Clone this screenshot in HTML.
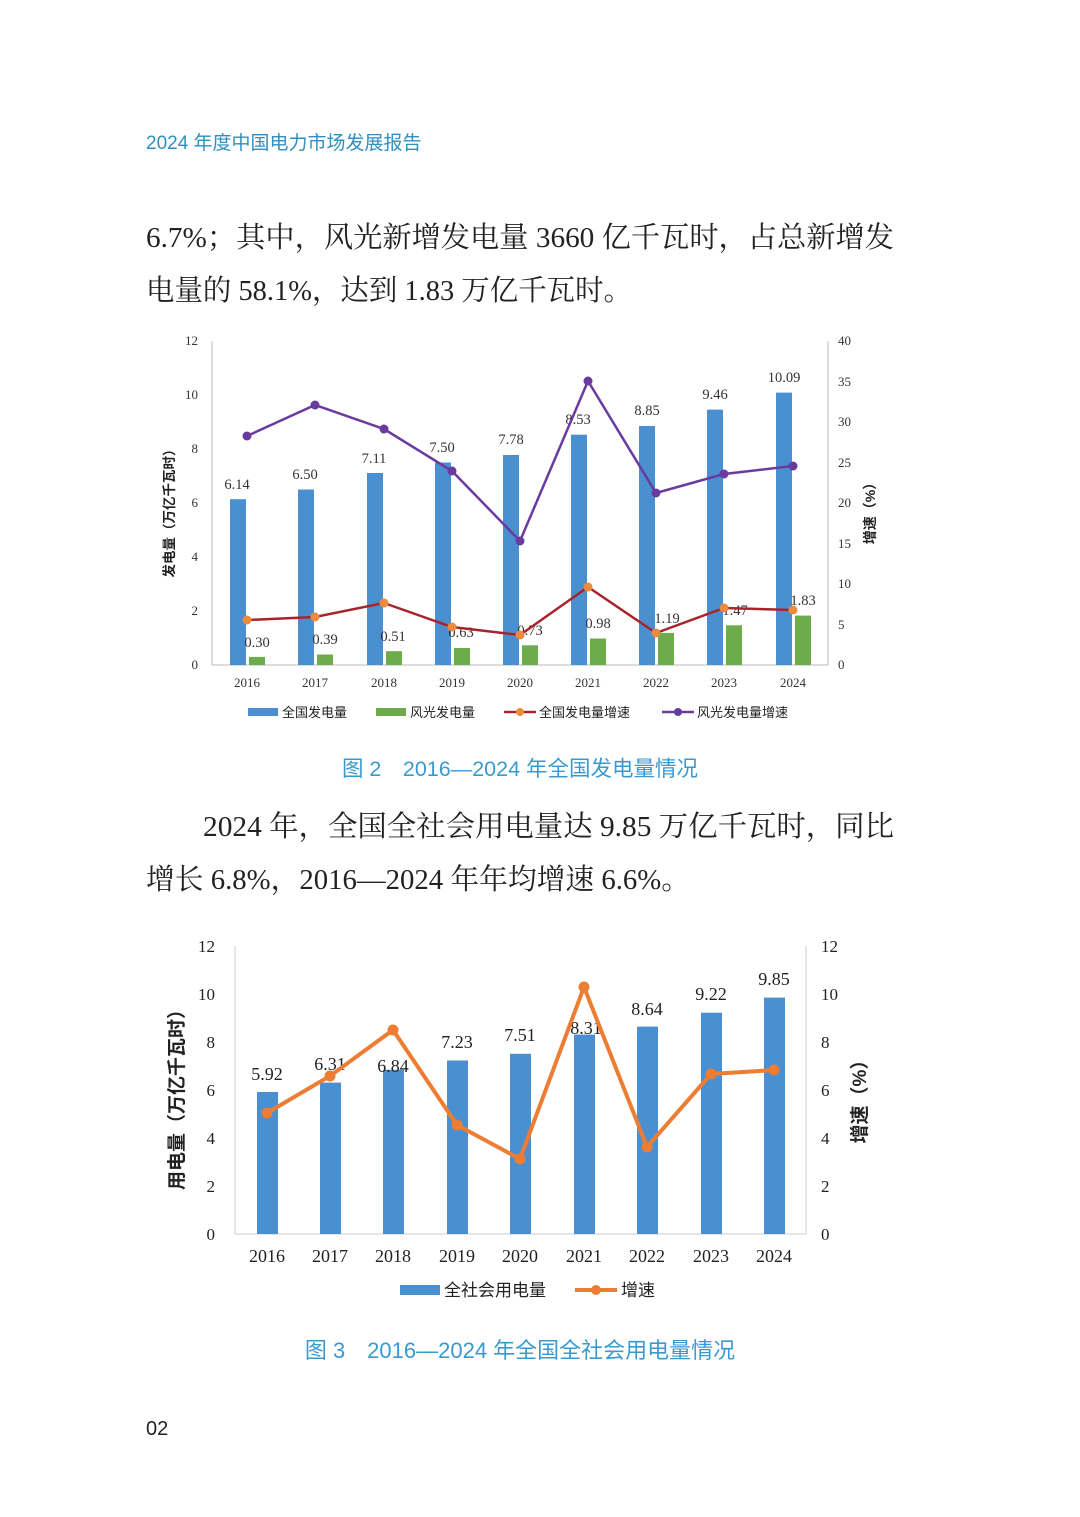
<!DOCTYPE html>
<html><head><meta charset="utf-8"><style>
html,body{margin:0;padding:0;background:#fff;}
svg{display:block;}
.s{font-family:"Liberation Serif","Noto Serif CJK SC",serif;}
.h{font-family:"Liberation Sans","Noto Sans CJK SC",sans-serif;}
</style></head><body>
<svg width="1080" height="1517" viewBox="0 0 1080 1517" xmlns="http://www.w3.org/2000/svg">
<rect width="1080" height="1517" fill="#fff"/>
<text x="146" y="149" class="h" font-size="19" fill="#2f8fc0">2024 年度中国电力市场发展报告</text>
<text x="146" y="247" class="s" font-size="29" fill="#222" textLength="748" lengthAdjust="spacingAndGlyphs">6.7%；其中，风光新增发电量 3660 亿千瓦时，占总新增发</text>
<text x="146" y="300" class="s" font-size="29" fill="#222" textLength="486" lengthAdjust="spacingAndGlyphs">电量的 58.1%，达到 1.83 万亿千瓦时。</text>

<!-- Chart 1 -->
<g class="s" font-size="13" fill="#333">
<line x1="212" y1="341" x2="212" y2="665" stroke="#bbb"/>
<line x1="828" y1="341" x2="828" y2="665" stroke="#bbb"/>
<line x1="212" y1="665" x2="828" y2="665" stroke="#bbb"/>
<g text-anchor="end">
<text x="198" y="669">0</text><text x="198" y="615">2</text><text x="198" y="561">4</text><text x="198" y="507">6</text><text x="198" y="453">8</text><text x="198" y="399">10</text><text x="198" y="345">12</text>
</g>
<g>
<text x="838" y="669">0</text><text x="838" y="629">5</text><text x="838" y="588">10</text><text x="838" y="548">15</text><text x="838" y="507">20</text><text x="838" y="467">25</text><text x="838" y="426">30</text><text x="838" y="386">35</text><text x="838" y="345">40</text>
</g>
<g fill="#4a8fd0">
<rect x="230" y="499.2" width="16" height="165.8"/>
<rect x="298" y="489.5" width="16" height="175.5"/>
<rect x="367" y="473" width="16" height="192"/>
<rect x="435" y="462.5" width="16" height="202.5"/>
<rect x="503" y="455" width="16" height="210"/>
<rect x="571" y="434.7" width="16" height="230.3"/>
<rect x="639" y="426" width="16" height="239"/>
<rect x="707" y="409.6" width="16" height="255.4"/>
<rect x="776" y="392.6" width="16" height="272.4"/>
</g>
<g fill="#6eab4a">
<rect x="249" y="656.9" width="16" height="8.1"/>
<rect x="317" y="654.5" width="16" height="10.5"/>
<rect x="386" y="651.2" width="16" height="13.8"/>
<rect x="454" y="648" width="16" height="17"/>
<rect x="522" y="645.3" width="16" height="19.7"/>
<rect x="590" y="638.5" width="16" height="26.5"/>
<rect x="658" y="632.9" width="16" height="32.1"/>
<rect x="726" y="625.3" width="16" height="39.7"/>
<rect x="795" y="615.6" width="16" height="49.4"/>
</g>
<g text-anchor="middle" font-size="14.5">
<text x="237" y="489">6.14</text><text x="305" y="479">6.50</text><text x="374" y="463">7.11</text><text x="442" y="452">7.50</text><text x="511" y="444">7.78</text><text x="578" y="424">8.53</text><text x="647" y="415">8.85</text><text x="715" y="399">9.46</text><text x="784" y="382">10.09</text>
<text x="257" y="647">0.30</text><text x="325" y="644">0.39</text><text x="393" y="641">0.51</text><text x="461" y="637">0.63</text><text x="530" y="635">0.73</text><text x="598" y="628">0.98</text><text x="667" y="623">1.19</text><text x="735" y="615">1.47</text><text x="803" y="605">1.83</text>
</g>
<g text-anchor="middle">
<text x="247" y="687">2016</text><text x="315" y="687">2017</text><text x="384" y="687">2018</text><text x="452" y="687">2019</text><text x="520" y="687">2020</text><text x="588" y="687">2021</text><text x="656" y="687">2022</text><text x="724" y="687">2023</text><text x="793" y="687">2024</text>
</g>
<polyline fill="none" stroke="#a8242c" stroke-width="2.5" points="247,620 315,617 384,603 452,627 520,635 588,587 656,633 724,608 793,610"/>
<g fill="#ee8a3c"><circle cx="247" cy="620" r="4.5"/><circle cx="315" cy="617" r="4.5"/><circle cx="384" cy="603" r="4.5"/><circle cx="452" cy="627" r="4.5"/><circle cx="520" cy="635" r="4.5"/><circle cx="588" cy="587" r="4.5"/><circle cx="656" cy="633" r="4.5"/><circle cx="724" cy="608" r="4.5"/><circle cx="793" cy="610" r="4.5"/></g>
<polyline fill="none" stroke="#6a3b9f" stroke-width="2.5" points="247,436 315,405 384,429 452,471 520,541 588,381 656,493 724,474 793,466"/>
<g fill="#6a3b9f"><circle cx="247" cy="436" r="4.5"/><circle cx="315" cy="405" r="4.5"/><circle cx="384" cy="429" r="4.5"/><circle cx="452" cy="471" r="4.5"/><circle cx="520" cy="541" r="4.5"/><circle cx="588" cy="381" r="4.5"/><circle cx="656" cy="493" r="4.5"/><circle cx="724" cy="474" r="4.5"/><circle cx="793" cy="466" r="4.5"/></g>
</g>
<text transform="translate(174,510) rotate(-90)" text-anchor="middle" class="h" font-size="13.5" font-weight="bold" fill="#222">发电量（万亿千瓦时）</text>
<text transform="translate(875,510) rotate(-90)" text-anchor="middle" class="h" font-size="14" font-weight="bold" fill="#222">增速（%）</text>
<g class="h" font-size="13" fill="#222">
<rect x="248" y="708" width="30" height="8" fill="#4a8fd0"/><text x="282" y="717">全国发电量</text>
<rect x="376" y="708" width="30" height="8" fill="#6eab4a"/><text x="410" y="717">风光发电量</text>
<line x1="504" y1="712" x2="536" y2="712" stroke="#a8242c" stroke-width="2.5"/><circle cx="520" cy="712" r="4" fill="#ee8a3c"/><text x="539" y="717">全国发电量增速</text>
<line x1="662" y1="712" x2="694" y2="712" stroke="#6a3b9f" stroke-width="2.5"/><circle cx="678" cy="712" r="4" fill="#6a3b9f"/><text x="697" y="717">风光发电量增速</text>
</g>
<text x="520" y="776" text-anchor="middle" class="h" font-size="21.5" fill="#3a9ad0">图 2　2016—2024 年全国发电量情况</text>

<text x="203" y="836" class="s" font-size="29" fill="#222" textLength="691" lengthAdjust="spacingAndGlyphs">2024 年，全国全社会用电量达 9.85 万亿千瓦时，同比</text>
<text x="146" y="889" class="s" font-size="29" fill="#222" textLength="544" lengthAdjust="spacingAndGlyphs">增长 6.8%，2016—2024 年年均增速 6.6%。</text>

<!-- Chart 2 -->
<g class="s" font-size="17" fill="#222">
<line x1="235" y1="946" x2="235" y2="1234" stroke="#ccc"/>
<line x1="806" y1="946" x2="806" y2="1234" stroke="#ccc"/>
<line x1="235" y1="1234" x2="806" y2="1234" stroke="#ccc"/>
<g text-anchor="end">
<text x="215" y="1240">0</text><text x="215" y="1192">2</text><text x="215" y="1144">4</text><text x="215" y="1096">6</text><text x="215" y="1048">8</text><text x="215" y="1000">10</text><text x="215" y="952">12</text>
</g>
<g>
<text x="821" y="1240">0</text><text x="821" y="1192">2</text><text x="821" y="1144">4</text><text x="821" y="1096">6</text><text x="821" y="1048">8</text><text x="821" y="1000">10</text><text x="821" y="952">12</text>
</g>
<g fill="#4a8fd0">
<rect x="257" y="1092" width="21" height="142"/>
<rect x="320" y="1082.6" width="21" height="151.4"/>
<rect x="383" y="1069.8" width="21" height="164.2"/>
<rect x="447" y="1060.5" width="21" height="173.5"/>
<rect x="510" y="1053.8" width="21" height="180.2"/>
<rect x="574" y="1034.6" width="21" height="199.4"/>
<rect x="637" y="1026.6" width="21" height="207.4"/>
<rect x="701" y="1012.7" width="21" height="221.3"/>
<rect x="764" y="997.6" width="21" height="236.4"/>
</g>
<g text-anchor="middle" font-size="18">
<text x="267" y="1080">5.92</text><text x="330" y="1070">6.31</text><text x="393" y="1072">6.84</text><text x="457" y="1048">7.23</text><text x="520" y="1041">7.51</text><text x="586" y="1034">8.31</text><text x="647" y="1015">8.64</text><text x="711" y="1000">9.22</text><text x="774" y="985">9.85</text>
<text x="267" y="1262">2016</text><text x="330" y="1262">2017</text><text x="393" y="1262">2018</text><text x="457" y="1262">2019</text><text x="520" y="1262">2020</text><text x="584" y="1262">2021</text><text x="647" y="1262">2022</text><text x="711" y="1262">2023</text><text x="774" y="1262">2024</text>
</g>
<polyline fill="none" stroke="#ec7d33" stroke-width="4" points="267,1113 330,1076 393,1030 457,1125 520,1159 584,987 647,1147 711,1074 774,1070"/>
<g fill="#ec7d33"><circle cx="267" cy="1113" r="5.5"/><circle cx="330" cy="1076" r="5.5"/><circle cx="393" cy="1030" r="5.5"/><circle cx="457" cy="1125" r="5.5"/><circle cx="520" cy="1159" r="5.5"/><circle cx="584" cy="987" r="5.5"/><circle cx="647" cy="1147" r="5.5"/><circle cx="711" cy="1074" r="5.5"/><circle cx="774" cy="1070" r="5.5"/></g>
</g>
<text transform="translate(183,1095) rotate(-90)" text-anchor="middle" class="h" font-size="19" font-weight="bold" fill="#222">用电量（万亿千瓦时）</text>
<text transform="translate(866,1097) rotate(-90)" text-anchor="middle" class="h" font-size="19" font-weight="bold" fill="#222">增速（%）</text>
<g class="h" font-size="17" fill="#222">
<rect x="400" y="1285" width="40" height="10" fill="#4a8fd0"/><text x="444" y="1296">全社会用电量</text>
<line x1="575" y1="1290" x2="617" y2="1290" stroke="#ec7d33" stroke-width="4"/><circle cx="596" cy="1290" r="5" fill="#ec7d33"/><text x="621" y="1296">增速</text>
</g>
<text x="520" y="1358" text-anchor="middle" class="h" font-size="22" fill="#3a9ad0">图 3　2016—2024 年全国全社会用电量情况</text>
<text x="146" y="1435" class="h" font-size="20" fill="#222">02</text>
</svg>
</body></html>
